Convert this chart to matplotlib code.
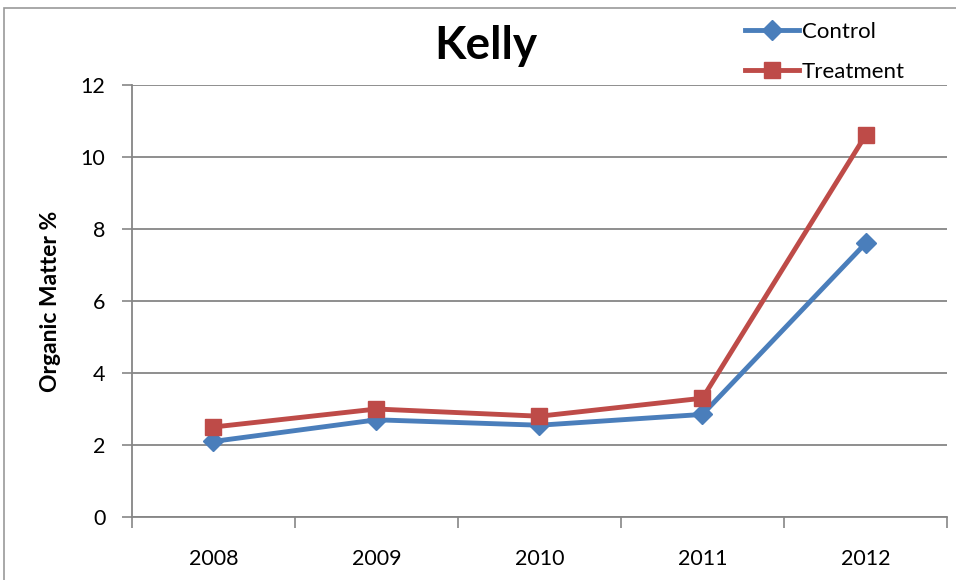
import matplotlib.pyplot as plt
from matplotlib.patches import Rectangle

years = ['2008', '2009', '2010', '2011', '2012']
control = [2.1, 2.7, 2.55, 2.85, 7.6]
treatment = [2.5, 3.0, 2.8, 3.3, 10.6]

plt.rcParams['font.family'] = ['Lato', 'DejaVu Sans']

fig = plt.figure(figsize=(9.56, 5.8), dpi=100)
ax = fig.add_axes([0.138, 0.1086, 0.8526, 0.7448])

x = list(range(len(years)))
ax.plot(x, control, color='#4A7EBB', lw=3.5, marker='D', ms=10, label='Control')
ax.plot(x, treatment, color='#BE4B48', lw=3.5, marker='s', ms=12, label='Treatment')

ax.set_xlim(-0.5, len(years) - 0.5)
ax.set_ylim(0, 12)
ax.set_yticks(range(0, 13, 2))
ax.set_xticks(x)
ax.set_xticklabels(years)
ax.set_xticks([i - 0.5 for i in range(len(years) + 1)], minor=True)
ax.tick_params(axis='x', which='major', length=0, pad=23, labelsize=15.5)
ax.tick_params(axis='x', which='minor', length=8, color='#868686', width=1.2)
ax.tick_params(axis='y', length=7, color='#868686', width=1.2, labelsize=15.5, pad=12)
ax.grid(axis='y', color='#868686', lw=1.3)
ax.set_axisbelow(True)
for s in ['top', 'right']:
    ax.spines[s].set_visible(False)
for s in ['left', 'bottom']:
    ax.spines[s].set_color('#868686')
    ax.spines[s].set_linewidth(1.3)

ax.set_ylabel('Organic Matter %', fontsize=16.5, fontweight='bold', labelpad=14)
fig.text(0.508, 0.92, 'Kelly', ha='center', va='center', fontsize=33, fontweight='bold')

ax.legend(loc='upper left', bbox_to_anchor=(0.728, 1.193), frameon=False, fontsize=16,
          handlelength=2.4, handletextpad=0.15, labelspacing=0.9)

fig.patches.append(Rectangle((4 / 956, -0.5), 2, 1.5 - 8 / 580, transform=fig.transFigure,
                             fill=False, edgecolor='#999999', lw=1.2))

fig.savefig('out.png', dpi=100)
